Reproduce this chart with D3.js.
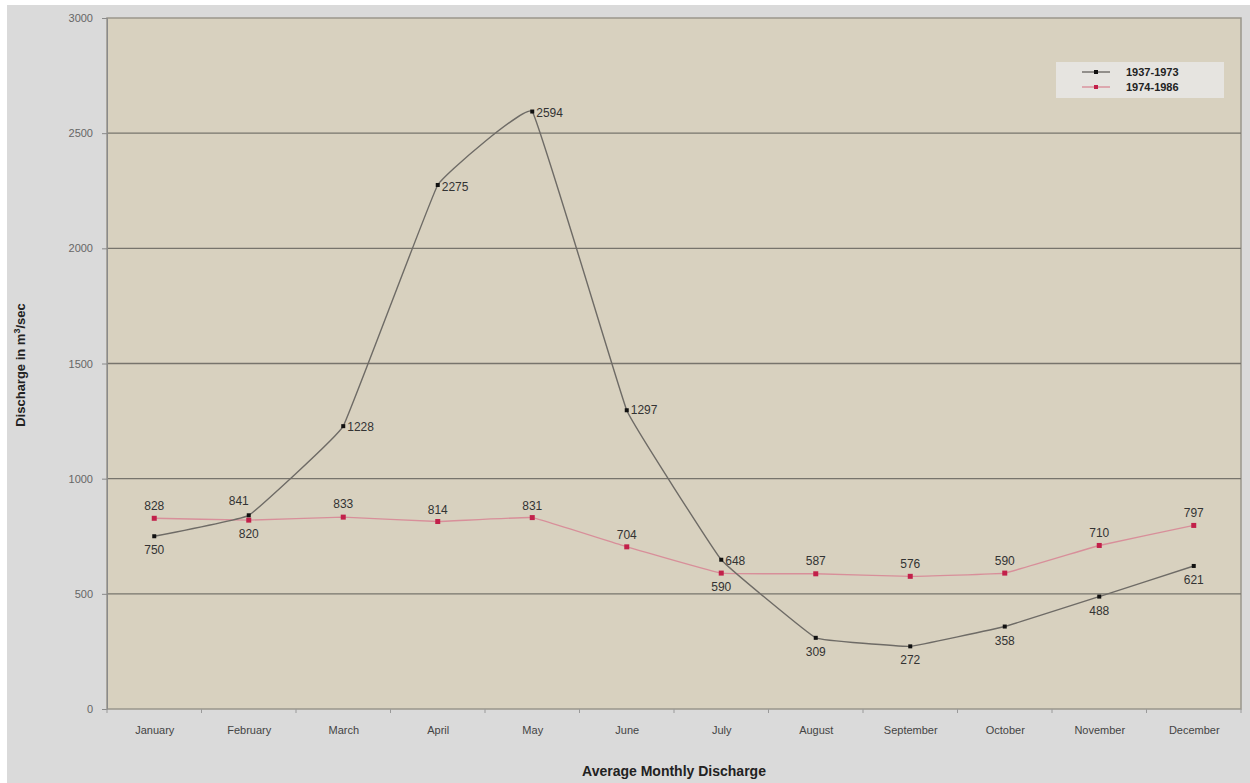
<!DOCTYPE html>
<html>
<head>
<meta charset="utf-8">
<script src="https://cdn.jsdelivr.net/npm/d3@7"></script>
<style>
  body{margin:0;background:#fff;}
  svg{display:block;font-family:"Liberation Sans",Arial,sans-serif;}
</style>
</head>
<body>
<svg id="chart" width="1250" height="783"></svg>
<script>
// data
var months=["January","February","March","April","May","June","July","August","September","October","November","December"];
var early=[750,841,1228,2275,2594,1297,648,309,272,358,488,621];   // 1937-1973
var late=[828,820,833,814,831,704,590,587,576,590,710,797];        // 1974-1986
var seriesNames=["1937-1973","1974-1986"];
var yTicks=[0,500,1000,1500,2000,2500,3000];
// label placement per point: [dx,dy,anchor]
var earlyPos=[[0,18,"middle"],[-10,-10,"middle"],[4,5,"start"],[4,6,"start"],[4,5,"start"],[4,4,"start"],[4,5,"start"],[0,18,"middle"],[0,18,"middle"],[0,18,"middle"],[0,18,"middle"],[0,18,"middle"]];
var latePos=[[0,-8,"middle"],[0,18,"middle"],[0,-9,"middle"],[0,-8,"middle"],[0,-8,"middle"],[0,-8,"middle"],[0,18,"middle"],[0,-9,"middle"],[0,-8,"middle"],[0,-8,"middle"],[0,-8,"middle"],[0,-8,"middle"]];

var svg=d3.select("#chart");
var plot={left:107,right:1241,top:18,bottom:709};

// page background
svg.append("rect").attr("x",7).attr("y",5).attr("width",1243).attr("height",778).attr("fill","#dadada");
svg.append("rect").attr("x",plot.left).attr("y",plot.top)
    .attr("width",plot.right-plot.left).attr("height",plot.bottom-plot.top)
    .attr("fill","#d8d1bf").attr("stroke","#9a968c").attr("stroke-width",1.5);

var x=d3.scalePoint().domain(months).range([plot.left,plot.right]).padding(0.5);
var y=d3.scaleLinear().domain([0,3000]).range([plot.bottom,plot.top]);

// gridlines
svg.append("g").selectAll("line").data(yTicks.filter(function(d){return d>0&&d<3000}))
    .enter().append("line")
    .attr("x1",plot.left).attr("x2",plot.right)
    .attr("y1",function(d){return y(d)}).attr("y2",function(d){return y(d)})
    .attr("stroke","#77746c").attr("stroke-width",1.3);

// y axis
var yAxis=svg.append("g").attr("transform","translate("+plot.left+",0)")
    .call(d3.axisLeft(y).tickValues(yTicks).tickFormat(d3.format("d")).tickSize(5).tickPadding(9));
yAxis.select(".domain").attr("stroke","#8a8a8a");
yAxis.selectAll(".tick line").attr("stroke","#8a8a8a");
yAxis.selectAll("text").attr("fill","#666").style("font-size","11px");

// x axis
var xAxis=svg.append("g").attr("transform","translate(0,"+plot.bottom+")")
    .call(d3.axisBottom(x).tickSize(0).tickPadding(17));
xAxis.select(".domain").remove();
xAxis.selectAll("text").attr("fill","#444").style("font-size","11px");
// small tick marks between categories
var step=x.step();
svg.append("g").selectAll("line").data(d3.range(13)).enter().append("line")
    .attr("x1",function(i){return plot.left+i*step}).attr("x2",function(i){return plot.left+i*step})
    .attr("y1",plot.bottom).attr("y2",plot.bottom+4).attr("stroke","#9a9a9a");

var line=d3.line()
    .x(function(d,i){return x(months[i])})
    .y(function(d){return y(d)})
    .curve(d3.curveCardinal.tension(0.8));

svg.append("path").datum(late).attr("d",line)
    .attr("fill","none").attr("stroke","#d88f9a").attr("stroke-width",1.4);
svg.append("path").datum(early).attr("d",line)
    .attr("fill","none").attr("stroke","#6e6b66").attr("stroke-width",1.4);

function markers(data,color,size){
    svg.append("g").selectAll("rect").data(data).enter().append("rect")
        .attr("x",function(d,i){return x(months[i])-size/2})
        .attr("y",function(d){return y(d)-size/2})
        .attr("width",size).attr("height",size).attr("fill",color);
}
markers(late,"#c2204a",5);
markers(early,"#111",4);

function labels(data,pos){
    svg.append("g").selectAll("text").data(data).enter().append("text")
        .attr("x",function(d,i){return x(months[i])+pos[i][0]})
        .attr("y",function(d,i){return y(d)+pos[i][1]})
        .attr("text-anchor",function(d,i){return pos[i][2]})
        .attr("fill","#333").style("font-size","12px")
        .text(function(d){return d});
}
labels(early,earlyPos);
labels(late,latePos);

// legend
var lg=svg.append("g").attr("transform","translate(1056,62)");
lg.append("rect").attr("width",168).attr("height",36).attr("fill","#e6e4e0");
var lgColors=[["#6e6b66","#111"],["#d88f9a","#c2204a"]];
seriesNames.forEach(function(n,i){
    var yy=10+i*15;
    lg.append("line").attr("x1",26).attr("x2",54).attr("y1",yy).attr("y2",yy)
        .attr("stroke",lgColors[i][0]).attr("stroke-width",1.4);
    lg.append("rect").attr("x",38).attr("y",yy-2).attr("width",4).attr("height",4).attr("fill",lgColors[i][1]);
    lg.append("text").attr("x",70).attr("y",yy+4).style("font-size","11px")
        .style("font-weight","bold").attr("fill","#222").text(n);
});

// axis titles
svg.append("text").attr("x",(plot.left+plot.right)/2).attr("y",776)
    .attr("text-anchor","middle").style("font-size","14px").style("font-weight","bold")
    .attr("fill","#222").text("Average Monthly Discharge");
var yt=svg.append("text").attr("transform","translate(25,365) rotate(-90)")
    .attr("text-anchor","middle").style("font-size","13px").style("font-weight","bold")
    .attr("fill","#222");
yt.append("tspan").text("Discharge in m");
yt.append("tspan").attr("dy",-5).style("font-size","9px").text("3");
yt.append("tspan").attr("dy",5).text("/sec");
</script>
</body>
</html>
